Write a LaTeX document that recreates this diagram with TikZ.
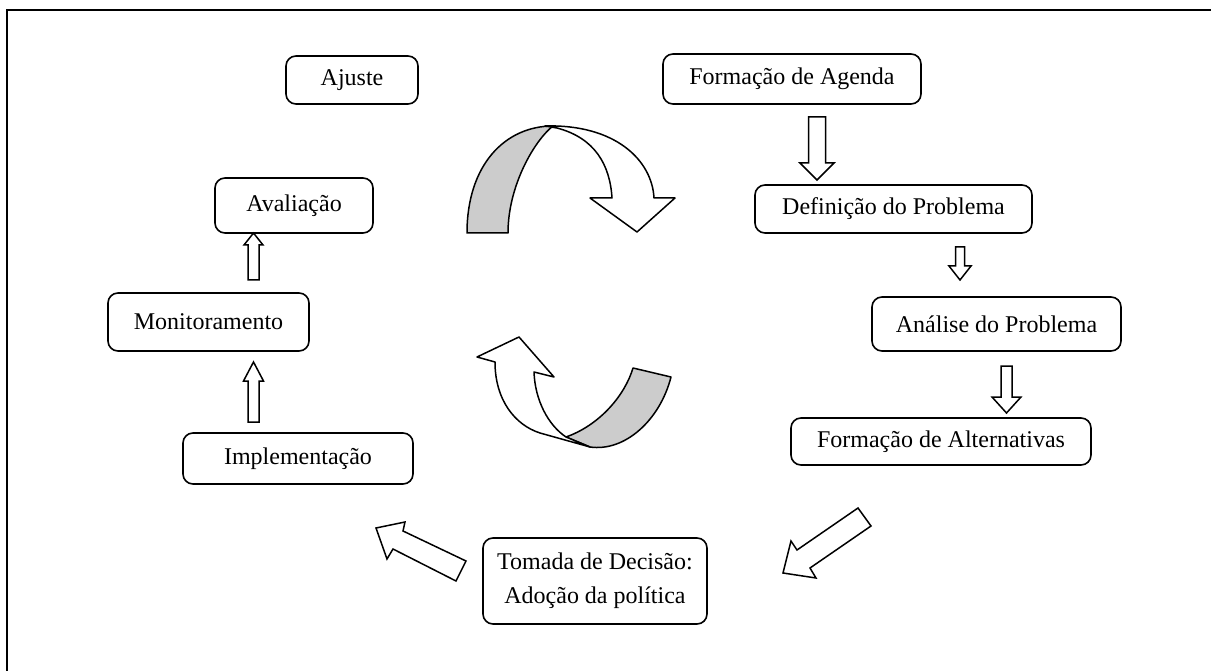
\documentclass[tikz,border=0pt]{standalone}
\usepackage{fontspec}
\setmainfont{Liberation Serif}
\begin{document}
\begin{tikzpicture}[x=1pt,y=-1pt,
  box/.style={draw=black,line width=1.6pt,rounded corners=10pt,fill=white,inner sep=0pt,align=center,font=\fontsize{24}{34}\selectfont},
  blockarrow/.style={draw=black,line width=1.5pt,fill=white,line join=miter},
  twist/.style={draw=black,line width=1.5pt,fill=black!20,line join=round},
  frame/.style={draw=black,line width=2pt}]
\useasboundingbox (0,0) rectangle (1211,671);
% frame
\coordinate (fl) at (7,671);
\coordinate (fc) at (7,10);
\coordinate (fr) at (1211,10);
\draw[frame] (fl) -- (fc) -- (fr);
% nodes
\node[box,minimum width=132pt,minimum height=48pt] (ajuste) at (352,80) {Ajuste};
\node[box,minimum width=258pt,minimum height=50pt] (agenda) at (792,79) {Formação de Agenda};
\node[box,minimum width=158pt,minimum height=55pt] (aval) at (294,205.5) {Avaliação};
\node[box,minimum width=201pt,minimum height=58pt] (monit) at (208.5,322) {Monitoramento};
\node[box,minimum width=230pt,minimum height=51pt] (impl) at (298,458.5) {Implementação};
\node[box,minimum width=277pt,minimum height=48pt] (defin) at (893.5,209) {Definição do Problema};
\node[box,minimum width=249pt,minimum height=54pt] (anal) at (996.5,324) {Análise do Problema};
\node[box,minimum width=300pt,minimum height=47pt] (alter) at (941,441.5) {Formação de Alternativas};
\node[box,minimum width=224pt,minimum height=86pt] (tomada) at (595,581) {Tomada de Decisão:\\Adoção da política};
% vertical block arrows
\draw[blockarrow] (808.5,117) -- (825.5,117) -- (825.5,163) -- (834,163) -- (817,180) -- (800,163) -- (808.5,163) -- cycle;
\draw[blockarrow] (955.5,247) -- (964.5,247) -- (964.5,266) -- (971,266) -- (960,280) -- (949,266) -- (955.5,266) -- cycle;
\draw[blockarrow] (1001,366) -- (1012,366) -- (1012,397) -- (1021,397) -- (1006.5,413) -- (992,397) -- (1001,397) -- cycle;
\draw[blockarrow] (248,280) -- (259,280) -- (259,245) -- (263,245) -- (253.5,233) -- (244,245) -- (248,245) -- cycle;
\draw[blockarrow] (248,422) -- (259,422) -- (259,381) -- (263.5,381) -- (253.5,362) -- (243.5,381) -- (248,381) -- cycle;
% diagonal block arrows
\draw[blockarrow] (376,528) -- (405,522) -- (403,531) -- (466,561) -- (456,581) -- (393,549) -- (387,559) -- cycle;
\draw[blockarrow] (858,508) -- (871,526) -- (810,568) -- (816,578) -- (783,573) -- (791,541) -- (797,550) -- cycle;
% top curved arrow
\draw[twist] (467,233) .. controls (467,165) and (505,126) .. (553,126)
  .. controls (535,140) and (508,185) .. (508,233) -- cycle;
\draw[blockarrow,line join=round] (545,126) .. controls (615,124) and (652,160) .. (654,198)
  -- (675,198) -- (637,232) -- (590,198) -- (612,198)
  .. controls (610,165) and (595,138) .. (557,128) -- cycle;
% bottom curved arrow
\draw[twist] (566,437) .. controls (600,425) and (625,395) .. (633,368)
  -- (671,377) .. controls (660,420) and (625,452) .. (590,447) -- cycle;
\draw[blockarrow,line join=round] (495,362) -- (477,357) -- (519,337) -- (554,377) -- (534,372)
  .. controls (535,400) and (548,425) .. (566,437) -- (590,447) -- (540,433)
  .. controls (515,425) and (495,400) .. (495,362) -- cycle;
\end{tikzpicture}
\end{document}
